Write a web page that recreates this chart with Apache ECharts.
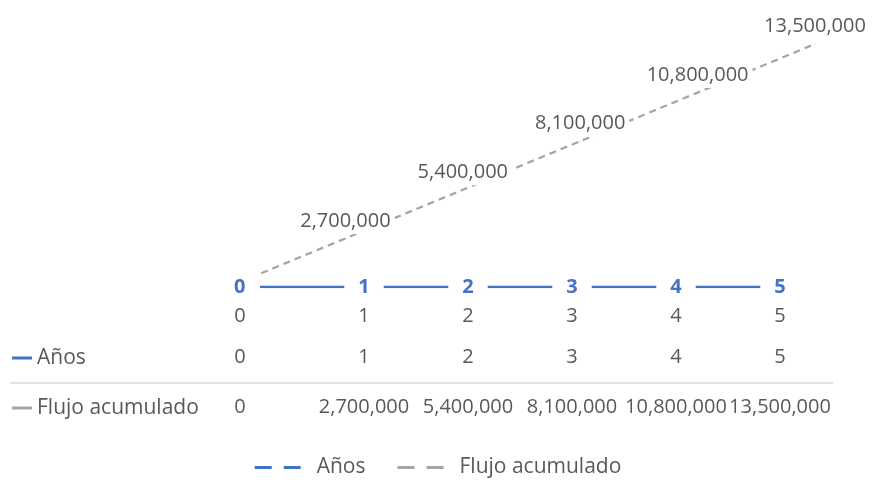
<!DOCTYPE html>
<html>
<head>
<meta charset="utf-8">
<script src="https://cdn.jsdelivr.net/npm/echarts@6/dist/echarts.min.js"></script>
<style>
  html, body { margin: 0; padding: 0; background: #fff; }
  #chart { width: 876px; height: 493px; }
</style>
</head>
<body>
<div id="chart"></div>
<script>
// Periods (years) and cumulative cash flow
const categories = ['0', '1', '2', '3', '4', '5'];
const anos = [0, 1, 2, 3, 4, 5];
const flujoAcumulado = [0, 2700000, 5400000, 8100000, 10800000, 13500000];
const seriesNames = ['Años', 'Flujo acumulado'];

const BLUE = '#4472C4';
const GREY = '#A5A5A5';
const TEXT = '#595959';
const FONT = '"Open Sans", sans-serif';
const FS_NUM = 20;   // numbers
const FS_TXT = 21;   // words

const fmt = v => Number(v).toLocaleString('en-US');
const yMax = Math.max.apply(null, flujoAcumulado);

// the first column of the table is set a little left of its category centre
const tableLabel = () => ({
  show: true,
  interval: 0,
  hideOverlap: false,
  color: TEXT,
  fontFamily: FONT,
  fontSize: FS_NUM,
  margin: 19,
  formatter: (v, i) => (i === 0 ? '{lead|' + v + '}' : v),
  rich: { lead: { color: TEXT, fontFamily: FONT, fontSize: FS_NUM, padding: [0, 40, 0, 0] } }
});

const hiddenBits = {
  axisLine: { show: false },
  axisTick: { show: false },
  splitLine: { show: false }
};

const chart = echarts.init(document.getElementById('chart'), null, { renderer: 'canvas' });

const option = {
  animation: false,
  backgroundColor: '#ffffff',
  textStyle: { fontFamily: FONT },
  grid: [
    { left: 208, width: 624, top: 44, height: 243 },
    { left: 228, width: 587, top: 44, height: 243 }
  ],
  xAxis: [
    Object.assign({ gridIndex: 0, type: 'category', data: categories, boundaryGap: true,
      axisLabel: tableLabel() }, hiddenBits),
    Object.assign({ gridIndex: 0, type: 'category', data: anos.map(String), boundaryGap: true,
      position: 'bottom', offset: 41, axisLabel: tableLabel() }, hiddenBits),
    Object.assign({ gridIndex: 0, type: 'category', data: flujoAcumulado.map(fmt), boundaryGap: true,
      position: 'bottom', offset: 91, axisLabel: tableLabel() }, hiddenBits),
    { gridIndex: 1, type: 'category', data: categories, boundaryGap: false, show: false }
  ],
  yAxis: [
    { gridIndex: 0, type: 'value', min: 0, max: yMax, show: false, splitLine: { show: false } },
    { gridIndex: 1, type: 'value', min: 0, max: yMax, show: false, splitLine: { show: false } }
  ],
  legend: {
    data: seriesNames,
    top: 452,
    left: 'center',
    icon: 'path://M0,0h17v3H0z M29,0h17v3H29z',
    itemWidth: 46,
    itemHeight: 3,
    itemGap: 32,
    textStyle: { color: TEXT, fontFamily: FONT, fontSize: FS_TXT, padding: [0, 0, 0, 11] }
  },
  series: [
    {
      name: seriesNames[0],
      type: 'line',
      xAxisIndex: 0,
      yAxisIndex: 0,
      z: 3,
      data: anos.map((v, i) => i === 0
        ? { value: v, label: { position: 'left', distance: 0 } }
        : v),
      symbol: 'circle',
      symbolSize: 1,
      itemStyle: { color: BLUE },
      lineStyle: { color: BLUE, width: 2.5 },
      label: {
        show: true,
        position: 'inside',
        color: BLUE,
        fontFamily: FONT,
        fontSize: 20,
        fontWeight: 'bold',
        backgroundColor: '#ffffff',
        padding: [5, 14]
      }
    },
    {
      name: seriesNames[1],
      type: 'line',
      xAxisIndex: 3,
      yAxisIndex: 1,
      z: 1,
      data: flujoAcumulado.map((v, i) => i === 0
        ? { value: v, label: { show: false } }
        : v),
      symbol: 'circle',
      symbolSize: 1,
      itemStyle: { color: GREY },
      lineStyle: { color: GREY, width: 2.25, type: [7, 5] },
      label: {
        show: true,
        position: 'top',
        distance: 4,
        color: TEXT,
        fontFamily: FONT,
        fontSize: FS_NUM,
        backgroundColor: '#ffffff',
        padding: [3, 4],
        formatter: p => fmt(p.value)
      }
    }
  ],
  graphic: [
    // data table row headers with their series keys
    { type: 'line', shape: { x1: 12, y1: 358, x2: 32, y2: 358 }, style: { stroke: BLUE, lineWidth: 3 } },
    { type: 'text', x: 37, y: 358, style: { text: seriesNames[0], fill: TEXT, font: FS_TXT + 'px ' + FONT, textVerticalAlign: 'middle' } },
    { type: 'line', shape: { x1: 12, y1: 408, x2: 32, y2: 408 }, style: { stroke: GREY, lineWidth: 3 } },
    { type: 'text', x: 37, y: 408, style: { text: seriesNames[1], fill: TEXT, font: FS_TXT + 'px ' + FONT, textVerticalAlign: 'middle' } },
    // row separator
    { type: 'line', shape: { x1: 10, y1: 383, x2: 833, y2: 383 }, style: { stroke: '#D9D9D9', lineWidth: 1.5 } }
  ]
};

chart.setOption(option);
</script>
</body>
</html>
